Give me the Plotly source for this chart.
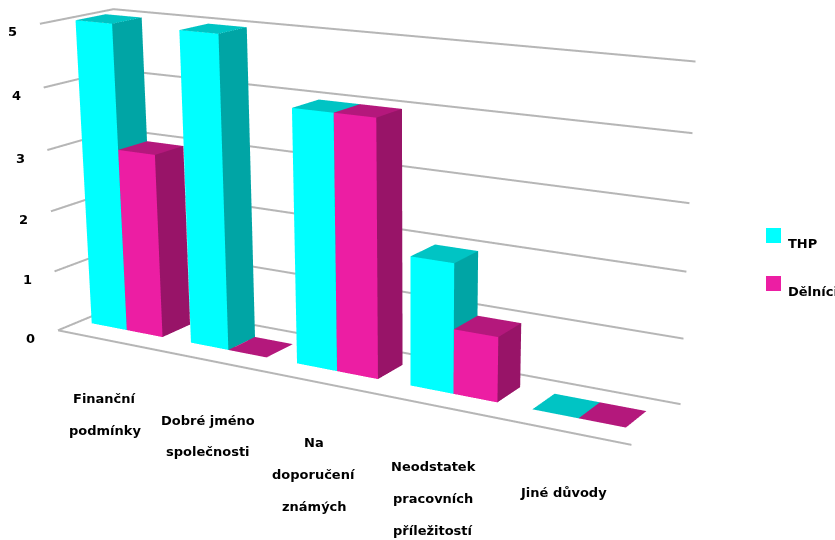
import numpy as np
import plotly.graph_objects as go

# chart data
categories = [["Finanční", "podmínky"], ["Dobré jméno", "společnosti"],
              ["Na", "doporučení", "známých"], ["Neodstatek", "pracovních", "příležitostí"],
              ["Jiné důvody"]]
thp = [5, 5, 4, 2, 0]
delnici = [3, 0, 4, 1, 0]
ticks = [0, 1, 2, 3, 4, 5]

# page geometry: a tall scene gives the long lens, the page shows one window of it
FIG_W, FIG_H, TOP = 835, 1500, 480
BAR_W, BAR_OFF, BAR_Y0, BAR_Y1 = 0.36, 0.12, 0.31, 0.72
GRID = "#b6b6b6"
FONT = dict(family="DejaVu Sans", size=13, color="#000000")


def px(x):
    return x / FIG_W


def py(y):
    return 1 - (y + TOP) / FIG_H


def bold(s):
    return "<b>%s</b>" % s


def bar_mesh(values, offset, front, side, top, name):
    xs, ys, zs, i, j, k, colors = [], [], [], [], [], [], []
    for n, v in enumerate(values):
        x0 = n + offset
        x1 = x0 + BAR_W
        b = len(xs)
        for z in (0, v):
            xs += [x0, x1, x1, x0]
            ys += [BAR_Y0, BAR_Y0, BAR_Y1, BAR_Y1]
            zs += [z] * 4
        quads = [((0, 1, 5, 4), front), ((1, 2, 6, 5), side), ((4, 5, 6, 7), top)]
        for q, c in quads:
            i += [b + q[0], b + q[0]]
            j += [b + q[1], b + q[2]]
            k += [b + q[2], b + q[3]]
            colors += [c, c]
    return go.Mesh3d(x=xs, y=ys, z=zs, i=i, j=j, k=k, facecolor=colors, flatshading=True,
                     lighting=dict(ambient=1, diffuse=0, specular=0, roughness=1, fresnel=0),
                     name=name, hoverinfo="skip", showscale=False)


fig = go.Figure()
n_cat = len(thp)
for t in ticks:
    fig.add_trace(go.Scatter3d(x=[0, 0, n_cat], y=[0, 1, 1], z=[t, t, t], mode="lines",
                               line=dict(color=GRID, width=4), hoverinfo="skip"))
fig.add_trace(go.Scatter3d(x=[0, n_cat], y=[0, 0], z=[0, 0], mode="lines",
                           line=dict(color=GRID, width=4), hoverinfo="skip"))
fig.add_trace(bar_mesh(thp, BAR_OFF, "#00FFFF", "#00A5A5", "#00C4C4", "THP"))
fig.add_trace(bar_mesh(delnici, BAR_OFF + BAR_W, "#EC1EA3", "#981468", "#B4187C", "Dělníci"))

annotations = []
centers = [105, 208, 314, 433, 563]
tops = [398, 420, 442, 466, 492]
for cat, cx, cy in zip(categories, centers, tops):
    for m, line in enumerate(cat):
        annotations.append(dict(x=px(cx), y=py(cy + 32 * m), xref="paper", yref="paper", text=bold(line),
                                showarrow=False, font=FONT, xanchor="center", yanchor="middle"))
annotations.append(dict(x=px(786), y=py(243), xref="paper", yref="paper", text=bold("THP"), showarrow=False,
                        font=FONT, xanchor="left", yanchor="middle"))
annotations.append(dict(x=px(786), y=py(291), xref="paper", yref="paper", text=bold("Dělníci"), showarrow=False,
                        font=FONT, xanchor="left", yanchor="middle"))

shapes = [dict(type="rect", xref="paper", yref="paper", x0=px(766), x1=px(781), y0=py(228), y1=py(243),
               fillcolor="#00FFFF", line_width=0),
          dict(type="rect", xref="paper", yref="paper", x0=px(766), x1=px(781), y0=py(276), y1=py(291),
               fillcolor="#EC1EA3", line_width=0)]

tick_notes = [dict(x=0, y=0, z=t, text=bold(t), showarrow=False, font=FONT, xshift=-27, yshift=-8) for t in ticks]

eye = np.array([1.374, -2.219, 0.671])
aim = eye + 0.02 * (np.array([-60.383, 106.757, -36.207]) - eye)
axis_off = dict(visible=False)
fig.update_layout(
    width=FIG_W, height=FIG_H, margin=dict(l=0, r=0, t=0, b=0), paper_bgcolor="white", showlegend=False,
    annotations=annotations, shapes=shapes,
    scene=dict(
        domain=dict(x=[0, 1], y=[0, 1]), bgcolor="white", annotations=tick_notes,
        xaxis=dict(range=[0, n_cat], **axis_off), yaxis=dict(range=[0, 1], **axis_off),
        zaxis=dict(range=[0, 5], **axis_off),
        aspectmode="manual", aspectratio=dict(x=1, y=0.179, z=0.496),
        camera=dict(eye=dict(x=eye[0], y=eye[1], z=eye[2]), center=dict(x=aim[0], y=aim[1], z=aim[2]),
                    up=dict(x=0, y=0, z=1)),
    ),
)
fig.write_html("out.html", post_script=(
    "document.documentElement.style.overflow='hidden';document.body.style.overflow='hidden';"
    "document.getElementById('{plot_id}').style.marginTop='-%dpx';" % TOP))
